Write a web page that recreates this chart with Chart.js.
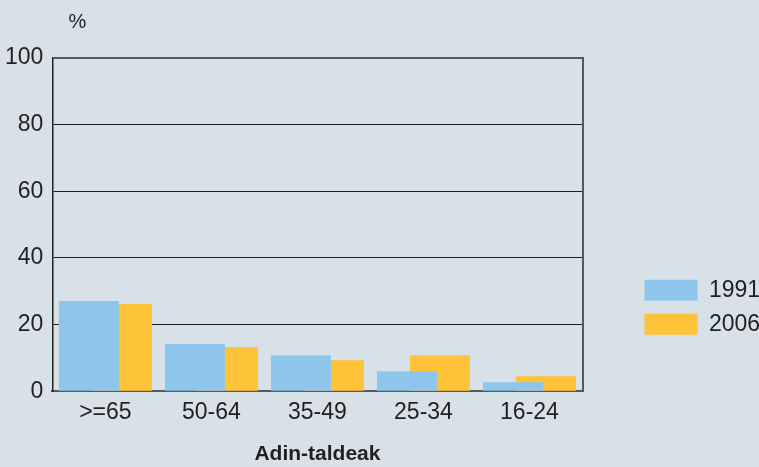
<!DOCTYPE html>
<html>
<head>
<meta charset="utf-8">
<script src="https://cdn.jsdelivr.net/npm/chart.js@4.4.1/dist/chart.umd.min.js"></script>
<style>
  html, body { margin: 0; padding: 0; background: #d9e1e8; }
  #wrap { width: 759px; height: 467px; }
</style>
</head>
<body>
<div id="wrap"><canvas id="c" width="759" height="467"></canvas></div>
<script>
const categories = ['>=65', '50-64', '35-49', '25-34', '16-24'];
const series1991 = [27.1, 14.2, 10.8, 6.0, 2.7];
const series2006 = [26.2, 13.3, 9.3, 10.8, 4.5];
const yTicks = [0, 20, 40, 60, 80, 100];
const seriesNames = ['1991', '2006'];
const unitLabel = '%';
const axisTitle = 'Adin-taldeak';

const TEXT = '#231f20';
const FONT = "'Liberation Sans', Arial, sans-serif";

const unitPlugin = {
  id: 'unitLabel',
  afterDraw(chart) {
    const ctx = chart.ctx;
    ctx.save();
    ctx.font = '20px ' + FONT;
    ctx.fillStyle = TEXT;
    ctx.textAlign = 'center';
    ctx.textBaseline = 'middle';
    ctx.fillText(unitLabel, chart.chartArea.left + 25, 22);
    ctx.restore();
  }
};

new Chart(document.getElementById('c'), {
  type: 'bar',
  data: {
    labels: categories,
    datasets: [
      { label: seriesNames[0], data: series1991, backgroundColor: '#8dc5eb', borderWidth: 0,
        categoryPercentage: 0.6226, barPercentage: 1.818 },
      { label: seriesNames[1], data: series2006, backgroundColor: '#ffc33a', borderWidth: 0,
        categoryPercentage: 0.6226, barPercentage: 1.818 }
    ]
  },
  options: {
    responsive: false,
    animation: false,
    devicePixelRatio: 1,
    layout: { padding: { top: 58, left: -4, right: -2, bottom: 0 } },
    plugins: {
      tooltip: { enabled: false },
      legend: {
        position: 'right',
        align: 'center',
        title: { display: true, text: ' ', padding: { top: 75, bottom: 0 }, font: { size: 12 } },
        labels: {
          boxWidth: 53, boxHeight: 21, padding: 11,
          color: TEXT,
          font: { family: FONT, size: 23 }
        }
      }
    },
    scales: {
      x: {
        grid: { display: false, drawTicks: false },
        border: { display: true, color: '#55595d', width: 2 },
        ticks: { color: TEXT, font: { family: FONT, size: 23 }, padding: 8 },
        title: { display: true, text: axisTitle, color: TEXT,
                 font: { family: FONT, size: 21, weight: 'bold' }, padding: { top: 7, bottom: 0 } }
      },
      y: {
        min: 0, max: 100,
        afterBuildTicks(scale) { scale.ticks = yTicks.map(v => ({ value: v })); },
        grid: {
          drawTicks: false,
          color: ctx => ctx.tick && ctx.tick.value === 0 ? 'rgba(0,0,0,0)' : (ctx.tick && ctx.tick.value === 100 ? '#55595d' : '#222222'),
          lineWidth: ctx => ctx.tick && ctx.tick.value === 100 ? 2 : 1
        },
        border: { display: true, color: '#222222', width: 1.5 },
        ticks: { color: TEXT, font: { family: FONT, size: 23 }, padding: 9 }
      },
      yRight: {
        type: 'linear',
        position: 'right',
        min: 0, max: 100,
        grid: { display: false, drawTicks: false },
        ticks: { display: false },
        border: { display: true, color: '#55595d', width: 2 },
        afterFit(scale) { scale.width = 51; }
      }
    }
  },
  plugins: [unitPlugin]
});
</script>
</body>
</html>
